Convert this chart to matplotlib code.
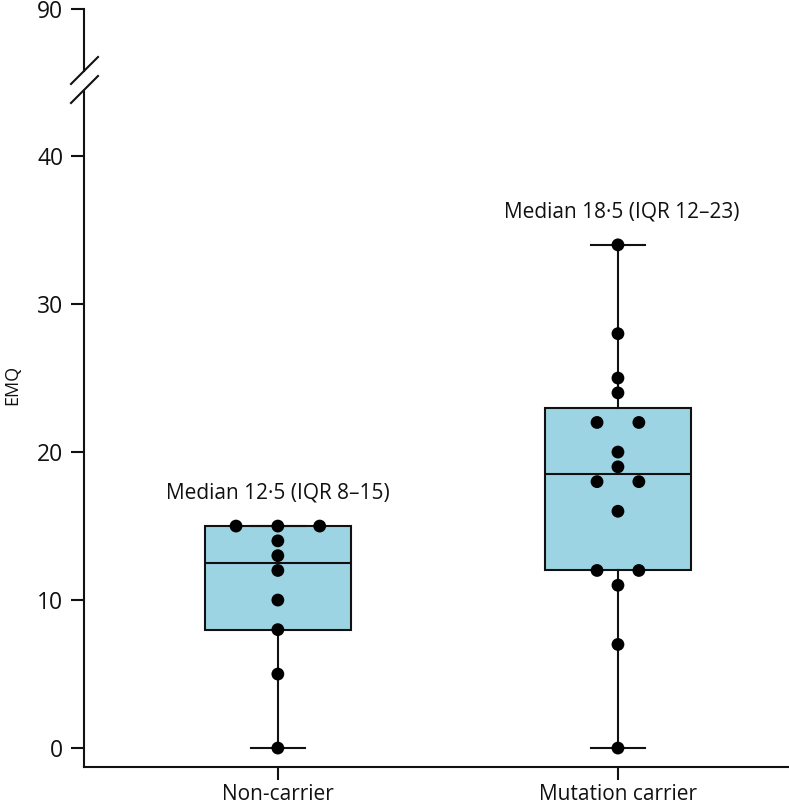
import matplotlib.pyplot as plt
import numpy as np

# data
groups = ['Non-carrier', 'Mutation carrier']
non_carrier = [15, 15, 15, 14, 13, 12, 10, 8, 5, 0]
mutation_carrier = [34, 28, 25, 24, 22, 22, 20, 19, 18, 18, 16, 12, 12, 11, 7, 0]
medians = [12.5, 18.5]
q1 = [8, 12]
q3 = [15, 23]
whisker_low = [0, 0]
whisker_high = [15, 34]
notes = ['Median 12·5 (IQR 8–15)', 'Median 18·5 (IQR 12–23)']
y_ticks = [0, 10, 20, 30, 40]
top_tick = 90

plt.rcParams['font.family'] = ['Open Sans', 'DejaVu Sans']
plt.rcParams['font.size'] = 15


def swarm_offsets(values, step=0.123):
  # spread equal values side by side around the centre
  values = np.asarray(values)
  offsets = np.zeros(len(values))
  for v in np.unique(values):
    idx = np.where(values == v)[0]
    n = len(idx)
    offsets[idx] = (np.arange(n) - (n - 1) / 2) * step
  return offsets


W, H = 789, 805
fig = plt.figure(figsize=(W / 100, H / 100), dpi=100)
left = 84 / W
width = (788 - 84) / W
ax = fig.add_axes([left, 1 - 767 / H, width, (767 - 90.5) / H])
ax_top = fig.add_axes([left, 1 - 71.5 / H, width, (71.5 - 9.5) / H])

# boxes
stats = []
for i in range(len(groups)):
  stats.append(dict(med=medians[i], q1=q1[i], q3=q3[i],
                    whislo=whisker_low[i], whishi=whisker_high[i], fliers=[]))
ax.bxp(stats, positions=[0, 1], widths=0.43, patch_artist=True,
       showfliers=False,
       boxprops=dict(facecolor='#9dd4e4', edgecolor='#111111', linewidth=1.5),
       medianprops=dict(color='#111111', linewidth=1.5),
       whiskerprops=dict(color='#111111', linewidth=1.5),
       capprops=dict(color='#111111', linewidth=1.5),
       capwidths=0.16)

# points
for i, vals in enumerate([non_carrier, mutation_carrier]):
  ax.scatter(i + swarm_offsets(vals), vals, s=85, color='black', zorder=5,
             edgecolors='none', clip_on=False)
  ax.text(i + 0.01 * i, max(vals) + 2.2, notes[i], ha='center', va='center',
          fontsize=15, color='#111111')

ax.set_xlim(-0.57, 1.50)
ax.set_ylim(-1.28, 44.43)
ax.set_xticks([0, 1])
ax.set_xticklabels(groups)
ax.set_yticks(y_ticks)
for s in ['top', 'right']:
  ax.spines[s].set_visible(False)
for s in ['left', 'bottom']:
  ax.spines[s].set_linewidth(1.5)
  ax.spines[s].set_color('#111111')
ax.tick_params(length=9.5, width=1.5, color='#111111', labelcolor='#111111',
               labelsize=15, pad=3)
ax.tick_params(axis='y', labelsize=16.5, pad=5.5)

# top part of the broken axis
ax_top.set_ylim(80, top_tick)
ax_top.set_yticks([top_tick])
ax_top.set_xticks([])
ax_top.patch.set_visible(False)
for s in ['top', 'right', 'bottom']:
  ax_top.spines[s].set_visible(False)
ax_top.spines['left'].set_linewidth(1.5)
ax_top.spines['left'].set_color('#111111')
ax_top.tick_params(length=9.5, width=1.5, color='#111111', labelcolor='#111111',
                   labelsize=16.5, pad=5.5)

# break marks
for y0 in [84, 103]:
  fig.add_artist(plt.Line2D([71 / W, 98 / W], [1 - y0 / H, 1 - (y0 - 27) / H],
                            color='#111111', linewidth=1.5))

fig.text(12 / W, 1 - 385 / H, 'EMQ', rotation=90, ha='center', va='center',
         fontsize=13, color='#111111')

fig.savefig('out.png', dpi=100)
